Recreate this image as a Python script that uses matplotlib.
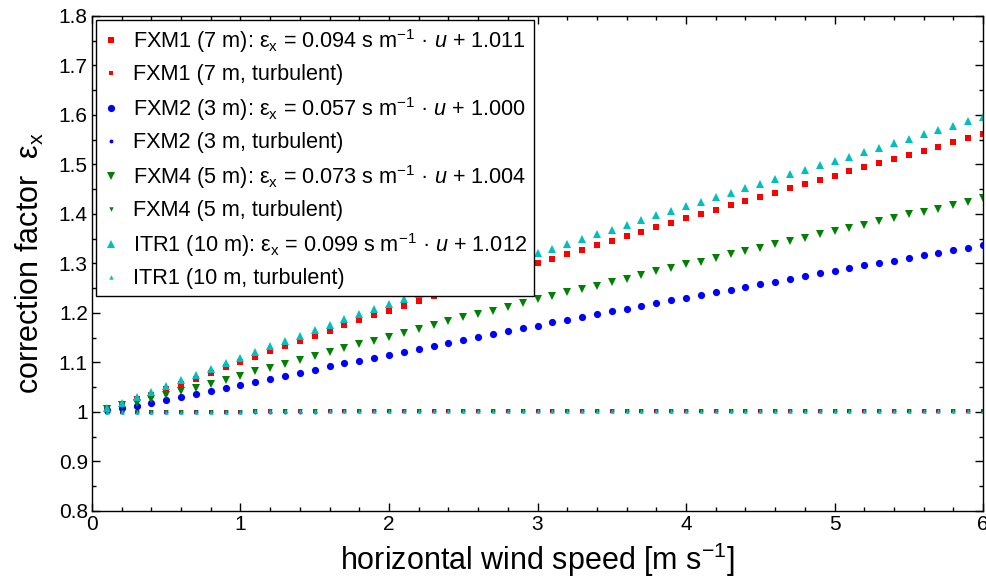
#!/usr/bin/env python3
"""
Correction factor vs horizontal wind speed for the four sonic sites
"""

import numpy as np
import matplotlib
matplotlib.use("Agg")
import matplotlib.pyplot as plt
from matplotlib.ticker import MultipleLocator, FormatStrFormatter

plt.rcParams['font.family'] = ['Liberation Sans', 'DejaVu Sans']
plt.rcParams['mathtext.fontset'] = 'custom'
plt.rcParams['mathtext.rm'] = 'Liberation Sans'
plt.rcParams['mathtext.it'] = 'Liberation Sans:italic'

# wind speed bins [m s-1]
u = np.round(np.arange(1, 61) * 0.1, 1)

# correction factors (u = 0.1 ... 6.0)
fxm1 = [1.007, 1.016, 1.026, 1.034, 1.047, 1.057, 1.067, 1.079, 1.090, 1.101,
        1.112, 1.123, 1.133, 1.143, 1.154, 1.164, 1.175, 1.185, 1.195, 1.205,
        1.215, 1.224, 1.234, 1.243, 1.253, 1.263, 1.272, 1.282, 1.291, 1.301,
        1.310, 1.319, 1.328, 1.337, 1.346, 1.355, 1.364, 1.373, 1.382, 1.391,
        1.399, 1.408, 1.418, 1.426, 1.434, 1.443, 1.452, 1.460, 1.469, 1.477,
        1.486, 1.494, 1.502, 1.511, 1.520, 1.528, 1.536, 1.545, 1.553, 1.562]
fxm2 = [1.004, 1.008, 1.013, 1.019, 1.024, 1.030, 1.036, 1.042, 1.049, 1.055,
        1.061, 1.067, 1.073, 1.079, 1.085, 1.092, 1.098, 1.104, 1.110, 1.116,
        1.122, 1.128, 1.134, 1.140, 1.146, 1.152, 1.158, 1.164, 1.169, 1.174,
        1.181, 1.186, 1.192, 1.197, 1.203, 1.209, 1.214, 1.220, 1.226, 1.231,
        1.236, 1.242, 1.247, 1.253, 1.258, 1.263, 1.269, 1.274, 1.280, 1.285,
        1.290, 1.296, 1.301, 1.306, 1.311, 1.317, 1.322, 1.327, 1.332, 1.337]
fxm4 = [1.007, 1.014, 1.019, 1.027, 1.034, 1.042, 1.049, 1.057, 1.065, 1.073,
        1.082, 1.089, 1.097, 1.105, 1.113, 1.121, 1.129, 1.137, 1.144, 1.152,
        1.160, 1.168, 1.175, 1.183, 1.191, 1.198, 1.205, 1.213, 1.220, 1.228,
        1.234, 1.242, 1.249, 1.255, 1.263, 1.269, 1.276, 1.284, 1.290, 1.298,
        1.304, 1.311, 1.319, 1.325, 1.332, 1.339, 1.345, 1.352, 1.359, 1.366,
        1.372, 1.378, 1.385, 1.392, 1.399, 1.405, 1.411, 1.418, 1.424, 1.432]
itr1 = [1.009, 1.019, 1.030, 1.040, 1.053, 1.064, 1.075, 1.087, 1.098, 1.110,
        1.121, 1.133, 1.143, 1.154, 1.166, 1.176, 1.187, 1.198, 1.209, 1.219,
        1.229, 1.239, 1.249, 1.260, 1.270, 1.280, 1.290, 1.300, 1.311, 1.321,
        1.329, 1.339, 1.349, 1.359, 1.368, 1.378, 1.387, 1.397, 1.406, 1.416,
        1.425, 1.434, 1.443, 1.453, 1.461, 1.471, 1.480, 1.489, 1.498, 1.507,
        1.516, 1.525, 1.534, 1.543, 1.552, 1.561, 1.570, 1.578, 1.587, 1.596]

# turbulent (flow distortion only) factors
fxm1_turb = [1.000, 1.000, 1.000, 1.000, 1.000, 1.000, 1.000, 1.000, 1.000, 1.000,
             1.001, 1.001, 1.001, 1.001, 1.001, 1.001, 1.001, 1.001, 1.001, 1.001,
             1.001, 1.001, 1.001, 1.001, 1.001, 1.001, 1.001, 1.001, 1.001, 1.001,
             1.002, 1.002, 1.002, 1.002, 1.002, 1.002, 1.002, 1.002, 1.002, 1.002,
             1.002, 1.002, 1.002, 1.002, 1.002, 1.002, 1.002, 1.002, 1.002, 1.002,
             1.003, 1.003, 1.003, 1.003, 1.003, 1.003, 1.003, 1.003, 1.003, 1.003]
fxm2_turb = [1.000, 1.000, 1.000, 1.000, 1.000, 1.000, 1.000, 1.000, 1.000, 1.000,
             1.000, 1.000, 1.000, 1.000, 1.000, 1.001, 1.001, 1.001, 1.001, 1.001,
             1.001, 1.001, 1.001, 1.001, 1.001, 1.001, 1.001, 1.001, 1.001, 1.001,
             1.001, 1.001, 1.001, 1.001, 1.001, 1.001, 1.001, 1.001, 1.001, 1.001,
             1.002, 1.002, 1.002, 1.002, 1.002, 1.002, 1.002, 1.002, 1.002, 1.002,
             1.002, 1.002, 1.002, 1.002, 1.002, 1.002, 1.002, 1.002, 1.002, 1.002]
fxm4_turb = [1.000, 1.000, 1.000, 1.000, 1.000, 1.000, 1.000, 1.000, 1.000, 1.000,
             1.001, 1.001, 1.001, 1.001, 1.001, 1.001, 1.001, 1.001, 1.001, 1.001,
             1.001, 1.001, 1.001, 1.001, 1.001, 1.001, 1.001, 1.001, 1.001, 1.001,
             1.001, 1.001, 1.002, 1.002, 1.002, 1.002, 1.002, 1.002, 1.002, 1.002,
             1.002, 1.002, 1.002, 1.002, 1.002, 1.002, 1.002, 1.002, 1.002, 1.002,
             1.002, 1.002, 1.003, 1.003, 1.003, 1.003, 1.003, 1.003, 1.003, 1.003]
itr1_turb = [1.000, 1.000, 1.000, 1.000, 1.000, 1.000, 1.000, 1.000, 1.000, 1.000,
             1.001, 1.001, 1.001, 1.001, 1.001, 1.001, 1.001, 1.001, 1.001, 1.001,
             1.001, 1.001, 1.001, 1.001, 1.001, 1.001, 1.001, 1.001, 1.001, 1.001,
             1.002, 1.002, 1.002, 1.002, 1.002, 1.002, 1.002, 1.002, 1.002, 1.002,
             1.002, 1.002, 1.002, 1.002, 1.002, 1.002, 1.002, 1.002, 1.002, 1.002,
             1.003, 1.003, 1.003, 1.003, 1.003, 1.003, 1.003, 1.003, 1.003, 1.003]

labels = [
    r'FXM1 (7 m): $\mathrm{ε}_\mathrm{x}$ = 0.094 s m$^{-1}$ · $u$ + 1.011',
    'FXM1 (7 m, turbulent)',
    r'FXM2 (3 m): $\mathrm{ε}_\mathrm{x}$ = 0.057 s m$^{-1}$ · $u$ + 1.000',
    'FXM2 (3 m, turbulent)',
    r'FXM4 (5 m): $\mathrm{ε}_\mathrm{x}$ = 0.073 s m$^{-1}$ · $u$ + 1.004',
    'FXM4 (5 m, turbulent)',
    r'ITR1 (10 m): $\mathrm{ε}_\mathrm{x}$ = 0.099 s m$^{-1}$ · $u$ + 1.012',
    'ITR1 (10 m, turbulent)',
]

red = '#ff0000'
blue = '#0000ff'
green = '#008000'
cyan = '#00bfbf'

fig = plt.figure(figsize=(9.87, 5.81), dpi=100)
ax = fig.add_axes([0.0932, 0.1205, 0.9028, 0.852])

ax.plot(u, fxm1, 's', color=red, ms=4.8, mew=0, label=labels[0])
ax.plot(u, fxm1_turb, 's', color=red, ms=2.6, mew=0, label=labels[1])
ax.plot(u, fxm2, 'o', color=blue, ms=5.2, mew=0, label=labels[2])
ax.plot(u, fxm2_turb, 'o', color=blue, ms=2.8, mew=0, label=labels[3])
ax.plot(u, fxm4, 'v', color=green, ms=6.2, mew=0, label=labels[4])
ax.plot(u, fxm4_turb, 'v', color=green, ms=3.2, mew=0, label=labels[5])
ax.plot(u, itr1, '^', color=cyan, ms=6.2, mew=0, label=labels[6])
ax.plot(u, itr1_turb, '^', color=cyan, ms=3.2, mew=0, label=labels[7])

ax.set_xlim(0, 6)
ax.set_ylim(0.8, 1.8)
ax.xaxis.set_major_locator(MultipleLocator(1))
ax.xaxis.set_minor_locator(MultipleLocator(0.2))
ax.yaxis.set_major_locator(MultipleLocator(0.1))
ax.yaxis.set_minor_locator(MultipleLocator(0.05))
ax.yaxis.set_major_formatter(FormatStrFormatter('%g'))
ax.tick_params(which='both', direction='in', top=True, right=True,
               labelsize=15, width=1.0, pad=3)
ax.tick_params(which='major', length=6)
ax.tick_params(which='minor', length=3)
for sp in ax.spines.values():
    sp.set_linewidth(1.0)

ax.set_xlabel(r'horizontal wind speed [m s$^{-1}$]', fontsize=22, labelpad=5)
ax.set_ylabel(r'correction factor  $\mathrm{ε}_\mathrm{x}$', fontsize=22, labelpad=9)

leg = ax.legend(loc='upper left', numpoints=1, fontsize=15.6, fancybox=False,
                framealpha=1, edgecolor='black', borderaxespad=0.2,
                borderpad=0.3, labelspacing=0.44, handlelength=0.8,
                handletextpad=0.6)
leg.get_frame().set_linewidth(1.0)
leg.set_zorder(10)

fig.savefig('out.png', dpi=100)
